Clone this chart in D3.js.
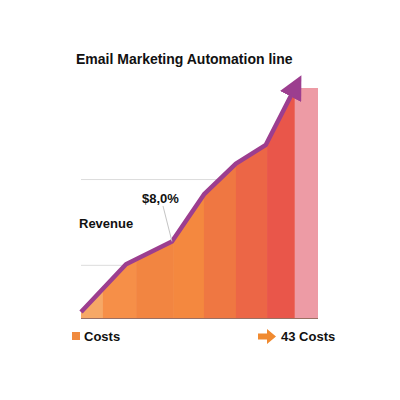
<!DOCTYPE html>
<html>
<head>
<meta charset="utf-8">
<script src="https://cdn.jsdelivr.net/npm/d3@7"></script>
<style>
  html, body { margin: 0; padding: 0; background: #ffffff; }
  svg { display: block; font-family: "Liberation Sans", Arial, sans-serif; }
</style>
</head>
<body>
<svg id="chart" width="400" height="400"></svg>
<script>
// ---- data ----
const title = "Email Marketing Automation line";
const lineX = [0, 1.52, 3.07, 4.15, 5.23, 6.24, 7.22];
const lineY = [2.6, 23.4, 33.3, 53.7, 67.1, 75.3, 100];
const bandEdges = [0, 0.74, 1.86, 3.12, 4.15, 5.23, 6.28, 7.22, 8];
const bandColors = ["#f6a866", "#f68f48", "#f28541", "#f4883f", "#ef7742", "#ec6646", "#e9564a", "#ed9ba5"];
const lastBarValue = 100;
const gridValues = [22.9, 60.2];
const annotationLabel = "$8,0%";
const seriesLabel = "Revenue";
const legendLeft = "Costs";
const legendRight = "43 Costs";

// ---- setup ----
const svg = d3.select("#chart");
const x = d3.scaleLinear().domain([0, 8]).range([81, 318]);
const y = d3.scaleLinear().domain([0, 100]).range([318, 88]);
const pts = lineX.map((v, i) => [v, lineY[i]]);

// gridlines
svg.selectAll("line.grid").data(gridValues).enter().append("line")
  .attr("class", "grid")
  .attr("x1", x(0)).attr("x2", x(6))
  .attr("y1", d => y(d)).attr("y2", d => y(d))
  .attr("stroke", "#dcdcdc").attr("stroke-width", 1);

// clip path of area under line
const area = d3.area().x(d => x(d[0])).y0(y(0)).y1(d => y(d[1]));
svg.append("clipPath").attr("id", "areaClip")
  .append("path").attr("d", area(pts));

// bands (all but last clipped by area)
const bands = bandColors.map((c, i) => ({ x0: bandEdges[i], x1: bandEdges[i + 1], c, i }));
const gClip = svg.append("g").attr("clip-path", "url(#areaClip)");
gClip.selectAll("rect").data(bands.slice(0, bands.length - 1)).enter().append("rect")
  .attr("x", d => x(d.x0)).attr("width", d => x(d.x1) - x(d.x0) + 0.5)
  .attr("y", y(100)).attr("height", y(0) - y(100))
  .attr("fill", d => d.c);
const last = bands[bands.length - 1];
svg.append("rect")
  .attr("x", x(last.x0)).attr("width", x(last.x1) - x(last.x0))
  .attr("y", y(lastBarValue)).attr("height", y(0) - y(lastBarValue))
  .attr("fill", last.c);

// baseline
svg.append("line")
  .attr("x1", x(0)).attr("x2", x(8)).attr("y1", y(0) + 0.5).attr("y2", y(0) + 0.5)
  .attr("stroke", "#9a7064").attr("stroke-width", 1.2);

// line with arrow
const defs = svg.append("defs");
defs.append("marker").attr("id", "arrowHead")
  .attr("viewBox", "0 0 10 10").attr("refX", 4).attr("refY", 5)
  .attr("markerWidth", 5.3).attr("markerHeight", 5.3)
  .attr("markerUnits", "strokeWidth")
  .attr("orient", "auto")
  .append("path").attr("d", "M0,0 L10,5 L0,10 Z").attr("fill", "#9c3e8f");

const lineGen = d3.line().x(d => x(d[0])).y(d => y(d[1]));
svg.append("path").attr("d", lineGen(pts))
  .attr("fill", "none").attr("stroke", "#9c3e8f").attr("stroke-width", 4.5)
  .attr("stroke-linejoin", "round")
  .attr("marker-end", "url(#arrowHead)");

// title
svg.append("text").attr("x", 76).attr("y", 64)
  .attr("font-size", 14).attr("font-weight", "bold").attr("fill", "#111")
  .text(title);

// annotation
svg.append("line")
  .attr("x1", 163).attr("y1", 206).attr("x2", x(lineX[2])).attr("y2", y(lineY[2]))
  .attr("stroke", "#c4c4c4").attr("stroke-width", 1);
svg.append("text").attr("x", 142).attr("y", 203)
  .attr("font-size", 13).attr("font-weight", "bold").attr("fill", "#111")
  .text(annotationLabel);
svg.append("text").attr("x", 79).attr("y", 228)
  .attr("font-size", 13).attr("font-weight", "bold").attr("fill", "#111")
  .text(seriesLabel);

// legend
svg.append("rect").attr("x", 72).attr("y", 332).attr("width", 8).attr("height", 8).attr("fill", "#f08a3e");
svg.append("text").attr("x", 84).attr("y", 341)
  .attr("font-size", 13).attr("font-weight", "bold").attr("fill", "#111")
  .text(legendLeft);
svg.append("path")
  .attr("d", "M258,333.5 L267,333.5 L267,329 L276,336.5 L267,344 L267,339.5 L258,339.5 Z")
  .attr("fill", "#f08a30");
svg.append("text").attr("x", 281).attr("y", 341)
  .attr("font-size", 13).attr("font-weight", "bold").attr("fill", "#111")
  .text(legendRight);
</script>
</body>
</html>
